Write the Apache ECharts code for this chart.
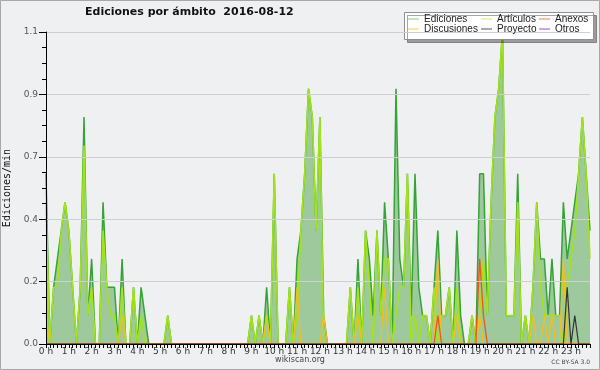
<!DOCTYPE html>
<html><head><meta charset="utf-8">
<script src="https://cdn.jsdelivr.net/npm/echarts@6/dist/echarts.min.js"></script>
<style>html,body{margin:0;padding:0;background:#eff0f2}#c{width:600px;height:370px}</style>
</head><body><div id="c"></div>
<script>
const hourLabels = ['0 h','1 h','2 h','3 h','4 h','5 h','6 h','7 h','8 h','9 h','10 h','11 h','12 h','13 h','14 h','15 h','16 h','17 h','18 h','19 h','20 h','21 h','22 h','23 h'];
const minuteSteps = ['00','10','20','30','40','50'];
const yTicks = [0, 0.22, 0.44, 0.66, 0.88, 1.1];

const ediciones = [
0.6,0,0.2,0.3,0.4,0.5, 0.4,0.2,0,0.2,0.8,0.1, 0.3,0,0,0.5,0.2,0.2, 0.2,0,0.3,0,0,0.2,
0,0.2,0.1,0,0,0, 0,0,0.1,0,0,0, 0,0,0,0,0,0, 0,0,0,0,0,0,
0,0,0,0,0,0, 0.1,0,0.1,0,0.2,0, 0.6,0,0,0,0.2,0, 0.3,0.4,0.6,0.9,0.8,0.4,
0.8,0.1,0,0,0,0, 0,0,0.2,0,0.3,0, 0.4,0.3,0.1,0.4,0.1,0.5, 0.3,0,0.9,0.3,0.2,0.6,
0.1,0.6,0.2,0.1,0.1,0, 0.2,0.4,0.1,0.1,0.2,0, 0.4,0.1,0,0,0.1,0, 0.6,0.6,0.1,0.5,0.8,0.9,
1.1,0.1,0.1,0.1,0.6,0, 0.1,0,0.2,0.5,0.3,0.3, 0.1,0.3,0.1,0.1,0.5,0.3, 0.4,0.5,0.6,0.8,0.6,0.4
];
const articulos = [
0.5,0,0.2,0.2,0.4,0.5, 0.4,0.2,0,0.2,0.7,0.1, 0.2,0,0,0.4,0.2,0.1, 0.1,0,0.2,0,0,0.2,
0,0.1,0,0,0,0, 0,0,0.1,0,0,0, 0,0,0,0,0,0, 0,0,0,0,0,0,
0,0,0,0,0,0, 0.1,0,0.1,0,0.1,0, 0.6,0,0,0,0.2,0, 0.1,0.4,0.6,0.9,0.8,0.4,
0.8,0,0,0,0,0, 0,0,0.2,0,0.2,0, 0.4,0.2,0,0.4,0.1,0.3, 0.3,0,0.1,0.2,0.2,0.6,
0,0.1,0,0.1,0.1,0, 0.2,0,0.1,0.1,0.2,0, 0.2,0,0,0,0.1,0, 0.1,0.3,0.1,0.5,0.8,0.9,
1.1,0.1,0.1,0.1,0.5,0, 0.1,0,0.2,0.5,0.2,0.1, 0.1,0.1,0.1,0.1,0,0.2, 0.3,0.4,0.6,0.8,0.6,0.3
];
const discusiones = [
0.1,0,0,0,0,0, 0,0,0,0,0,0, 0,0,0,0,0,0, 0,0,0.1,0,0,0,
0,0,0,0,0,0, 0,0,0,0,0,0, 0,0,0,0,0,0, 0,0,0,0,0,0,
0,0,0,0,0,0, 0,0,0,0,0.1,0, 0,0,0,0,0,0, 0.2,0,0,0,0,0,
0,0.1,0,0,0,0, 0,0,0,0,0.1,0, 0,0,0,0,0,0.2, 0,0,0,0,0,0,
0,0,0,0,0,0, 0,0.3,0,0,0,0, 0.1,0,0,0,0,0, 0.1,0,0,0,0,0,
0,0,0,0,0,0, 0,0,0.1,0,0,0.1, 0,0.1,0,0,0.3,0, 0,0,0,0,0,0
];
const anexos = [
0,0,0,0,0,0, 0,0,0,0,0,0, 0,0,0,0,0,0, 0,0,0,0,0,0,
0,0,0,0,0,0, 0,0,0,0,0,0, 0,0,0,0,0,0, 0,0,0,0,0,0,
0,0,0,0,0,0, 0,0,0,0,0,0, 0,0,0,0,0,0, 0,0,0,0,0,0,
0,0,0,0,0,0, 0,0,0,0,0,0, 0,0,0,0,0,0, 0,0,0,0,0,0,
0,0,0,0,0,0, 0,0.1,0,0,0,0, 0,0,0,0,0,0, 0.3,0.1,0,0,0,0,
0,0,0,0,0,0, 0,0,0,0,0,0, 0,0,0,0,0,0, 0,0,0,0,0,0
];
const proyecto = [
0,0,0,0,0,0, 0,0,0,0,0,0, 0,0,0,0,0,0, 0,0,0,0,0,0,
0,0,0,0,0,0, 0,0,0,0,0,0, 0,0,0,0,0,0, 0,0,0,0,0,0,
0,0,0,0,0,0, 0,0,0,0,0,0, 0,0,0,0,0,0, 0,0,0,0,0,0,
0,0,0,0,0,0, 0,0,0,0,0,0, 0,0,0,0,0,0, 0,0,0,0,0,0,
0,0,0,0,0,0, 0,0,0,0,0,0, 0,0,0,0,0,0, 0,0,0,0,0,0,
0,0,0,0,0,0, 0,0,0,0,0,0, 0,0,0,0,0,0.2, 0,0.1,0,0,0,0
];
const otros = new Array(144).fill(0);

const times = [];
hourLabels.forEach(function(h){ minuteSteps.forEach(function(m){ times.push(h.replace(' h','') + ':' + m); }); });

const chart = echarts.init(document.getElementById('c'), null, {renderer:'canvas'});
function lineSeries(name, data, color, width, z, area) {
  const s = {name: name, type:'line', data: data, symbol:'none', z: z, animation:false,
    lineStyle:{color: color, width: width}, itemStyle:{color: color}};
  if (area) s.areaStyle = {color: area, opacity: 1};
  return s;
}
const legendFont = {fontFamily:'Liberation Sans', fontSize:10, color:'#222', lineHeight:10};
function legendCol(left, items) {
  return {left:left, top:14, padding:0, orient:'vertical', itemGap:0, itemWidth:11, itemHeight:1, icon:'rect',
    textStyle: legendFont, z:10, selectedMode:false, data: items};
}
chart.setOption({
  backgroundColor:'#eff0f2',
  animation:false,
  title:{text:'Ediciones por ámbito  2016-08-12', left:85, top:7, padding:0,
    textStyle:{fontFamily:'DejaVu Sans', fontWeight:'bold', fontSize:11, color:'#111'}},
  grid:{left:46, right:10, top:32, bottom:26, containLabel:false, outerBoundsMode:'none'},
  legend:[
    legendCol(408, [{name:'Ediciones', itemStyle:{color:'#86c986'}}, {name:'Discusiones', itemStyle:{color:'#f7cf4a'}}]),
    legendCol(481, [{name:'Artículos', itemStyle:{color:'#cdee62'}}, {name:'Proyecto', itemStyle:{color:'#555555'}}]),
    legendCol(539, [{name:'Anexos', itemStyle:{color:'#f5814f'}}, {name:'Otros', itemStyle:{color:'#9b45f0'}}])
  ],
  graphic:[
    {type:'rect', z:1, shape:{x:0.5,y:0.5,width:599,height:369}, style:{fill:'none', stroke:'#a8a8a8', lineWidth:1}},
    {type:'rect', z:5, shape:{x:404.5,y:12.5,width:189,height:27}, style:{fill:'#ffffff', stroke:'#909090', lineWidth:1, shadowColor:'rgba(0,0,0,0.35)', shadowOffsetX:3, shadowOffsetY:3, shadowBlur:0}},
    {type:'text', z:5, left:'center', top:356, style:{text:'wikiscan.org', fontFamily:'DejaVu Sans', fontSize:8, fill:'#444'}},
    {type:'text', z:5, right:10, top:359, style:{text:'CC BY-SA 3.0', fontFamily:'DejaVu Sans', fontSize:6, fill:'#444'}}
  ],
  xAxis:{type:'category', data:times, boundaryGap:false, z:10,
    axisLine:{lineStyle:{color:'#000', width:1}},
    axisTick:{interval:0, length:4, lineStyle:{color:'#000'}},
    axisLabel:{interval:5, margin:3, fontFamily:'DejaVu Sans', fontSize:9, color:'#333',
      formatter:function(v, i){ return hourLabels[Math.floor(i/6)]; }},
    splitLine:{show:false}},
  yAxis:{type:'value', min:yTicks[0], max:yTicks[yTicks.length-1], interval:yTicks[1], z:10,
    name:'Ediciones/min', nameLocation:'middle', nameGap:31, nameRotate:90,
    nameTextStyle:{fontFamily:'DejaVu Sans Mono', fontSize:10, color:'#111'},
    axisLine:{show:true, lineStyle:{color:'#000', width:1}},
    axisTick:{show:true, length:7, lineStyle:{color:'#000'}},
    minorTick:{show:true, splitNumber:4, length:4, lineStyle:{color:'#000'}},
    splitLine:{show:true, lineStyle:{color:'#cfcfcf', width:1}},
    axisLabel:{margin:8, fontFamily:'DejaVu Sans', fontSize:9, color:'#555',
      formatter:function(v){ return v.toFixed(1); }}},
  series:[
    lineSeries('Ediciones', ediciones, '#36a336', 1.5, 2, '#9dc99d'),
    lineSeries('Artículos', articulos, '#a2e31a', 1.6, 3),
    lineSeries('Discusiones', discusiones, '#f2bf1d', 1.3, 4),
    lineSeries('Anexos', anexos, '#f2531d', 1.3, 5),
    lineSeries('Proyecto', proyecto, '#333333', 1.2, 6),
    lineSeries('Otros', otros, '#9b45f0', 1.2, 1)
  ]
});
</script></body></html>
